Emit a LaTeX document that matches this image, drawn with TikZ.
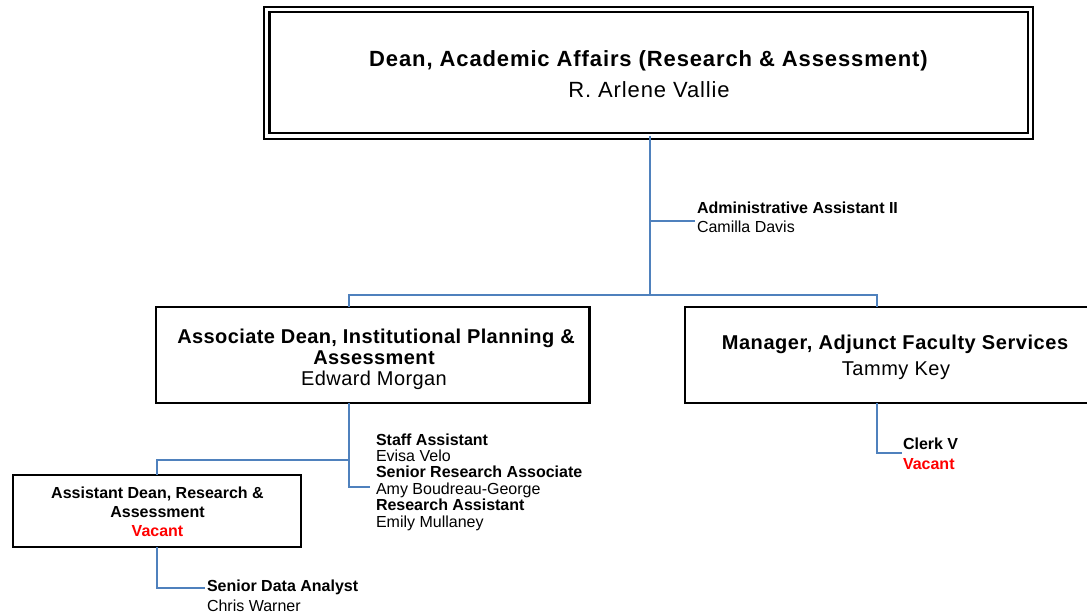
\documentclass[tikz,border=0pt]{standalone}
\usepackage{fontspec}
\setmainfont{Liberation Sans}
\definecolor{lineblue}{RGB}{79,129,189}
\definecolor{vacred}{RGB}{255,0,0}
\begin{document}
\begin{tikzpicture}[x=1pt,y=-1pt,
  conn/.style={draw=lineblue,line width=1.6pt},
  box/.style={draw=black,line width=2.1pt,fill=white,inner sep=0pt,outer sep=0pt},
  topbox/.style={draw=black,double=white,double distance=3.3pt,line width=2.1pt,inner sep=0pt,outer sep=0pt},
  txt/.style={inner sep=0pt,outer sep=0pt},
  toptxt/.style={txt,anchor=base,font=\fontsize{22}{26}\selectfont\addfontfeatures{LetterSpace=4}},
  midtxt/.style={txt,anchor=base,font=\fontsize{20}{24}\selectfont\addfontfeatures{LetterSpace=2}},
  midwide/.style={midtxt,font=\fontsize{20}{24}\selectfont\addfontfeatures{LetterSpace=2.8}},
  smalltxt/.style={txt,anchor=base west,font=\fontsize{16}{18}\selectfont},
  abtxt/.style={txt,anchor=base,font=\fontsize{16}{18}\selectfont\bfseries},
  vac/.style={text=vacred}
]
\useasboundingbox (0,0) rectangle (1087,614);
\clip (0,0) rectangle (1087,614);

% boxes
\node[topbox,minimum width=763.6pt,minimum height=126.3pt] (top) at (648.6,72.7) {};
\node[box,minimum width=433.5pt,minimum height=96pt] (lbox) at (372.75,355) {};
\node[box,minimum width=410pt,minimum height=96pt] (rbox) at (890,355) {};
\node[box,minimum width=288pt,minimum height=72pt] (abox) at (157,511) {};

% coordinates
\coordinate (j0) at (650,295);
\coordinate (a0) at (650,221);
\coordinate (a1) at (695,221);
\coordinate (cl) at (349,295);
\coordinate (cr) at (877,295);
\coordinate (ld) at (349,487);
\coordinate (le) at (370,487);
\coordinate (lb) at (349,460);
\coordinate (lc) at (157,460);
\coordinate (rd) at (877,453);
\coordinate (re) at (902,453);
\coordinate (ad) at (157,588);
\coordinate (ae) at (205,588);

% connectors
\draw[conn] (top.south -| j0) -- (j0);
\draw[conn] (a0) -- (a1);
\draw[conn] (lbox.north -| cl) -- (cl) -- (cr) -- (rbox.north -| cr);
\draw[conn] (lbox.south -| cl) -- (ld) -- (le);
\draw[conn] (lb) -- (lc) -- (abox.north);
\draw[conn] (rbox.south -| cr) -- (rd) -- (re);
\draw[conn] (abox.south) -- (ad) -- (ae);

% top box text
\node[toptxt] (t1) at (648.5,66) {\bfseries Dean, Academic Affairs (Research \& Assessment)};
\node[toptxt] (t2) at (649,97) {R. Arlene Vallie};

% admin
\node[smalltxt] (ad1) at (697,213) {\bfseries Administrative Assistant II};
\node[smalltxt] (ad2) at (697,232.5) {Camilla Davis};

% left box text
\node[midtxt] (l1) at (376,343) {\bfseries Associate Dean, Institutional Planning \&};
\node[midtxt] (l2) at (374,364) {\bfseries Assessment};
\node[midtxt] (l3) at (374,385) {Edward Morgan};

% right box text
\node[midwide] (r1) at (895,349) {\bfseries Manager, Adjunct Faculty Services};
\node[midwide] (r2) at (896,375) {Tammy Key};

% staff group
\node[smalltxt] (s1) at (376,445) {\bfseries Staff Assistant};
\node[smalltxt] (s2) at (376,461.4) {Evisa Velo};
\node[smalltxt] (s3) at (376,477.8) {\bfseries Senior Research Associate};
\node[smalltxt] (s4) at (376,494.2) {Amy Boudreau-George};
\node[smalltxt] (s5) at (376,510.6) {\bfseries Research Assistant};
\node[smalltxt] (s6) at (376,527) {Emily Mullaney};

% clerk
\node[smalltxt] (c1) at (903,449) {\bfseries Clerk V};
\node[smalltxt,vac] (c2) at (903,469) {\bfseries Vacant};

% assistant dean box text
\node[abtxt] (b1) at (157.5,498) {Assistant Dean, Research \&};
\node[abtxt] (b2) at (157.5,517) {Assessment};
\node[abtxt,vac] (b3) at (157.5,536) {Vacant};

% senior data analyst
\node[smalltxt] (d1) at (207,591) {\bfseries Senior Data Analyst};
\node[smalltxt] (d2) at (207,611) {Chris Warner};
\end{tikzpicture}
\end{document}
